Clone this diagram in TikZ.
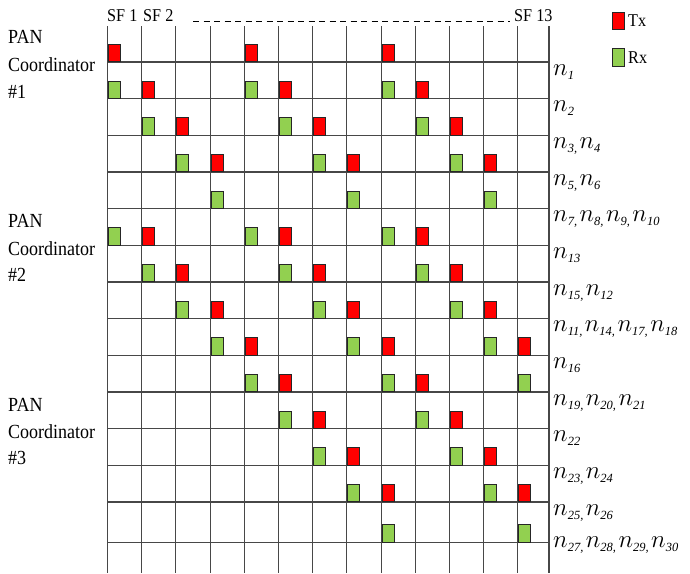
\documentclass[tikz,border=0pt]{standalone}
\usepackage{fontspec}
\setmainfont{Liberation Serif}
\usepackage{graphicx}
\definecolor{txred}{HTML}{FF0000}
\definecolor{rxgreen}{HTML}{92D050}
\newcommand{\cz}[1]{\scalebox{0.9}[1]{#1}}
\newcommand{\nv}[1]{{\fontsize{32pt}{32pt}\selectfont$n$}\raisebox{-4pt}{\fontsize{12.5pt}{12.5pt}\selectfont\itshape #1}}
\newcommand{\ns}{\hspace{2.5pt}}
\tikzset{
  slot/.style={draw=black!85, line width=0.6pt, minimum width=12pt, minimum height=17.5pt, inner sep=0pt, outer sep=0pt, anchor=south west},
  tx/.style={slot, fill=txred},
  rx/.style={slot, fill=rxgreen},
  gridline/.style={black!72, line width=1.1pt},
  coord/.style={inner sep=0pt, anchor=base west, font=\fontsize{20pt}{20pt}\selectfont},
  sflabel/.style={inner sep=0pt, anchor=base west, font=\fontsize{18pt}{18pt}\selectfont},
  nlabel/.style={inner sep=0pt, anchor=base west},
}
\begin{document}
\begin{tikzpicture}[x=1pt,y=-1pt]
\useasboundingbox (0,0) rectangle (690,573);
\fill[white] (0,0) rectangle (690,573);
% grid
\foreach \i in {0,...,12}
  \draw[gridline] ({107.5+34.2*\i},26) -- ({107.5+34.2*\i},573);
\draw[gridline] (549,26) -- (549,573);
\foreach \r in {1,...,14}
  \draw[gridline] (107.5,{ifthenelse(\r==14,542.5,62+36.667*(\r-1))}) -- (549,{ifthenelse(\r==14,542.5,62+36.667*(\r-1))});
% slots
\foreach \c/\r/\k in {
  1/1/tx,5/1/tx,9/1/tx,
  1/2/rx,2/2/tx,5/2/rx,6/2/tx,9/2/rx,10/2/tx,
  2/3/rx,3/3/tx,6/3/rx,7/3/tx,10/3/rx,11/3/tx,
  3/4/rx,4/4/tx,7/4/rx,8/4/tx,11/4/rx,12/4/tx,
  4/5/rx,8/5/rx,12/5/rx,
  1/6/rx,2/6/tx,5/6/rx,6/6/tx,9/6/rx,10/6/tx,
  2/7/rx,3/7/tx,6/7/rx,7/7/tx,10/7/rx,11/7/tx,
  3/8/rx,4/8/tx,7/8/rx,8/8/tx,11/8/rx,12/8/tx,
  4/9/rx,5/9/tx,8/9/rx,9/9/tx,12/9/rx,13/9/tx,
  5/10/rx,6/10/tx,9/10/rx,10/10/tx,13/10/rx,
  6/11/rx,7/11/tx,10/11/rx,11/11/tx,
  7/12/rx,8/12/tx,11/12/rx,12/12/tx,
  8/13/rx,9/13/tx,12/13/rx,13/13/tx,
  9/14/rx,13/14/rx}
  \node[\k] (s-\r-\c) at ({107.5+34.2*(\c-1)+0.8},{ifthenelse(\r==14,542.5,62+36.667*(\r-1))-0.3}) {};
% header
\node[sflabel] (sf1) at (107,21.5) {\cz{SF 1}};
\node[sflabel] (sf2) at (143,21.5) {\cz{SF 2}};
\node[sflabel] (sf13) at (514,21.5) {\cz{SF 13}};
\coordinate (dashA) at (193,21);
\coordinate (dashB) at (510,21);
\draw[black, line width=0.8pt, dash pattern=on 6pt off 4.5pt] (dashA) -- (dashB);
% legend
\node[tx, anchor=north west] (ltx) at (612,12) {};
\node[sflabel] (ltxt) at (628,26) {\cz{Tx}};
\node[rx, anchor=north west] (lrx) at (612,48.5) {};
\node[sflabel] (lrxt) at (628,63) {\cz{Rx}};
% coordinator labels
\node[coord] (c1a) at (8,43) {\cz{PAN}};
\node[coord] (c1b) at (8,71) {\cz{Coordinator}};
\node[coord] (c1c) at (8,98.5) {\cz{\#1}};
\node[coord] (c2a) at (8,227) {\cz{PAN}};
\node[coord] (c2b) at (8,255.5) {\cz{Coordinator}};
\node[coord] (c2c) at (8,281.5) {\cz{\#2}};
\node[coord] (c3a) at (8,411) {\cz{PAN}};
\node[coord] (c3b) at (8,438.5) {\cz{Coordinator}};
\node[coord] (c3c) at (8,464) {\cz{\#3}};
% node labels
\node[nlabel] (l1) at (553,75) {\nv{1}};
\node[nlabel] (l2) at (553,111.7) {\nv{2}};
\node[nlabel] (l3) at (553,148.3) {\nv{3,}\ns\nv{4}};
\node[nlabel] (l4) at (553,185) {\nv{5,}\ns\nv{6}};
\node[nlabel] (l5) at (553,221.7) {\nv{7,}\ns\nv{8,}\ns\nv{9,}\ns\nv{10}};
\node[nlabel] (l6) at (553,258.3) {\nv{13}};
\node[nlabel] (l7) at (553,295) {\nv{15,}\ns\nv{12}};
\node[nlabel] (l8) at (553,331.7) {\nv{11,}\ns\nv{14,}\ns\nv{17,}\ns\nv{18}};
\node[nlabel] (l9) at (553,368.3) {\nv{16}};
\node[nlabel] (l10) at (553,405) {\nv{19,}\ns\nv{20,}\ns\nv{21}};
\node[nlabel] (l11) at (553,441.7) {\nv{22}};
\node[nlabel] (l12) at (553,478.3) {\nv{23,}\ns\nv{24}};
\node[nlabel] (l13) at (553,515) {\nv{25,}\ns\nv{26}};
\node[nlabel] (l14) at (553,547) {\nv{27,}\ns\nv{28,}\ns\nv{29,}\ns\nv{30}};
\end{tikzpicture}
\end{document}
